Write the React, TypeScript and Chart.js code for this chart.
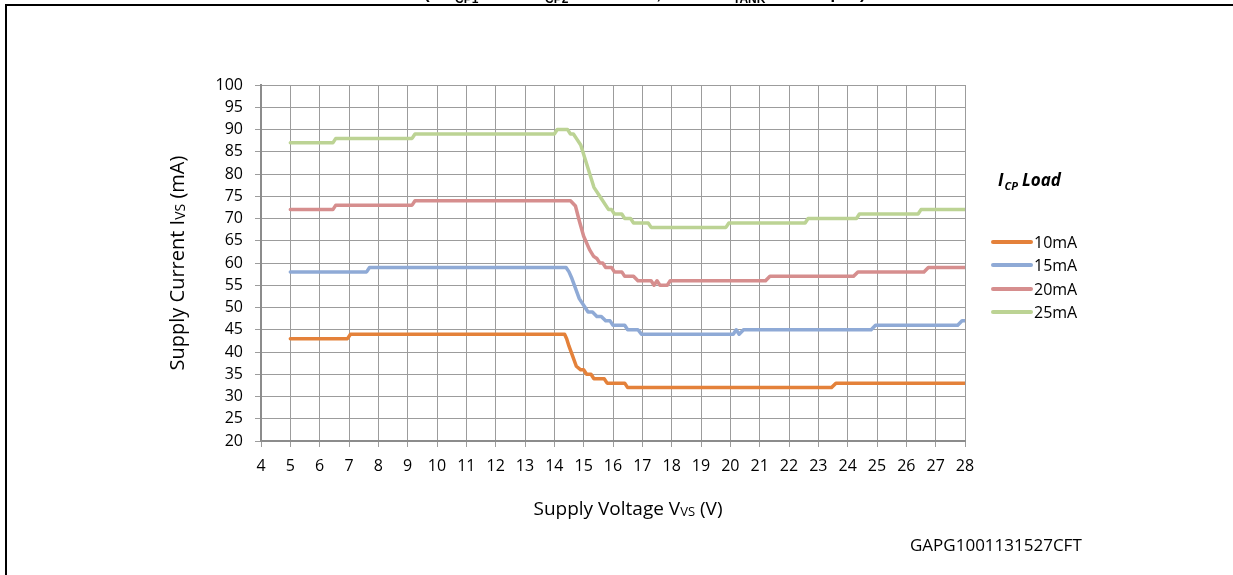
import React, { useEffect, useRef } from "react";
import { Chart, registerables } from "chart.js";

Chart.register(...registerables);

// ---- Data ----
const seriesLabels = ["10mA", "15mA", "20mA", "25mA"];
const seriesColors = ["#E4813A", "#8FAAD6", "#D68E8E", "#BCD394"];

const xTickMin = 4;
const xTickMax = 28;
const yTickMin = 20;
const yTickMax = 100;

const v10 = [5, 6.95, 7.05, 14.35, 14.42, 14.5, 14.6, 14.75, 14.9, 15.0, 15.1, 15.25, 15.35, 15.45, 15.7, 15.8, 16.4, 16.5, 23.45, 23.6, 28];
const i10 = [43, 43, 44, 44, 43, 41.3, 39.5, 36.8, 36, 36, 35, 35, 34, 34, 34, 33, 33, 32, 32, 33, 33];

const v15 = [5, 7.6, 7.7, 14.4, 14.5, 14.6, 14.85, 15.05, 15.15, 15.3, 15.45, 15.6, 15.75, 15.9, 16.0, 16.4, 16.5, 16.85, 16.97, 20.1, 20.2, 20.3, 20.45, 24.8, 24.95, 27.75, 27.9, 28];
const i15 = [58, 58, 59, 59, 58, 56.5, 52, 50, 49, 49, 48, 48, 47, 47, 46, 46, 45, 45, 44, 44, 45, 44, 45, 45, 46, 46, 47, 47];

const v20 = [5, 6.45, 6.55, 9.15, 9.25, 14.55, 14.72, 14.85, 15.0, 15.2, 15.34, 15.45, 15.55, 15.65, 15.75, 15.95, 16.05, 16.3, 16.4, 16.7, 16.85, 17.3, 17.4, 17.5, 17.6, 17.85, 17.95, 21.2, 21.35, 24.2, 24.35, 26.6, 26.75, 28];
const i20 = [72, 72, 73, 73, 74, 74, 72.8, 69.5, 66, 63, 61.5, 61, 60, 60, 59, 59, 58, 58, 57, 57, 56, 56, 55, 56, 55, 55, 56, 56, 57, 57, 58, 58, 59, 59];

const v25 = [5, 6.45, 6.55, 9.15, 9.25, 14.0, 14.1, 14.45, 14.55, 14.65, 14.75, 14.9, 15.35, 15.6, 15.85, 15.95, 16.05, 16.3, 16.4, 16.6, 16.7, 17.2, 17.3, 19.85, 19.95, 22.55, 22.65, 24.3, 24.4, 26.4, 26.5, 28];
const i25 = [87, 87, 88, 88, 89, 89, 90, 90, 89, 89, 88, 86.5, 77, 74.5, 72, 72, 71, 71, 70, 70, 69, 69, 68, 68, 69, 69, 70, 70, 71, 71, 72, 72];

const seriesV = [v10, v15, v20, v25];
const seriesI = [i10, i15, i20, i25];

const FONT = "'Open Sans', 'DejaVu Sans', sans-serif";

const decorPlugin = {
  id: "decor",
  afterDraw(chart: any) {
    const ctx: CanvasRenderingContext2D = chart.ctx;
    const area = chart.chartArea;
    ctx.save();

    // frame
    ctx.fillStyle = "#000";
    ctx.fillRect(6, 4, 1233 - 6, 2);
    ctx.fillRect(5, 4, 2, 575 - 4);

    // clipped title
    ctx.fillStyle = "#000";
    ctx.textBaseline = "alphabetic";
    ctx.textAlign = "left";
    const big = `bold 17px 'Liberation Sans', Arial, sans-serif`;
    const sub = `bold 12px 'Liberation Sans', Arial, sans-serif`;
    const pieces: [string, number, boolean][] = [
      ["(C", 424, false],
      ["CP1", 455, true],
      [" = C", 483, false],
      ["CP2", 545, true],
      [" = 220 nF, C", 585, false],
      ["TANK", 733, true],
      [" = 100 µF/ )", 778, false],
    ];
    for (const [t, x, s] of pieces) {
      ctx.font = s ? sub : big;
      ctx.fillText(t, x, s ? 3 : -1);
    }

    // y axis title (rotated)
    ctx.save();
    ctx.translate(177, (area.top + area.bottom) / 2);
    ctx.rotate(-Math.PI / 2);
    ctx.fillStyle = "#000";
    const yMain = `20px ${FONT}`;
    const ySub = `14px ${FONT}`;
    const yParts: [string, string, number][] = [
      ["Supply Current I", yMain, 0],
      ["VS", ySub, 1],
      [" (mA)", yMain, 0],
    ];
    let total = 0;
    for (const [t, f] of yParts) {
      ctx.font = f;
      total += ctx.measureText(t).width;
    }
    let cx = -total / 2;
    ctx.textBaseline = "alphabetic";
    for (const [t, f, dy] of yParts) {
      ctx.font = f;
      ctx.fillText(t, cx, 7 + dy);
      cx += ctx.measureText(t).width;
    }
    ctx.restore();

    // x axis title
    const xMain = `19px ${FONT}`;
    const xSub = `13px ${FONT}`;
    const xParts: [string, string, number][] = [
      ["Supply Voltage V", xMain, 0],
      ["VS", xSub, 1],
      [" (V)", xMain, 0],
    ];
    total = 0;
    for (const [t, f] of xParts) {
      ctx.font = f;
      total += ctx.measureText(t).width;
    }
    cx = 628 - total / 2;
    for (const [t, f, dy] of xParts) {
      ctx.font = f;
      ctx.fillText(t, cx, 515 + dy);
      cx += ctx.measureText(t).width;
    }

    // legend title
    ctx.font = `italic bold 17px ${FONT}`;
    ctx.fillText("I", 998, 186);
    let lx = 998 + ctx.measureText("I").width + 1;
    ctx.font = `italic bold 11px ${FONT}`;
    ctx.fillText("CP", lx, 190);
    lx += ctx.measureText("CP").width + 4;
    ctx.font = `italic bold 17px ${FONT}`;
    ctx.fillText("Load", lx, 186);

    // legend items
    const ys = [242, 265, 289, 312];
    chart.data.datasets.forEach((ds: any, k: number) => {
      ctx.strokeStyle = ds.borderColor;
      ctx.lineWidth = 4;
      ctx.lineCap = "round";
      ctx.beginPath();
      ctx.moveTo(993, ys[k]);
      ctx.lineTo(1031, ys[k]);
      ctx.stroke();
      ctx.fillStyle = "#000";
      ctx.font = `16px ${FONT}`;
      ctx.textBaseline = "middle";
      ctx.fillText(ds.label, 1034, ys[k] + 1);
    });

    // code label
    ctx.textBaseline = "middle";
    ctx.font = `17px ${FONT}`;
    ctx.fillStyle = "#000";
    ctx.fillText("GAPG1001131527CFT", 910, 546);

    ctx.restore();
  },
};

export default function App() {
  const ref = useRef<HTMLCanvasElement | null>(null);

  useEffect(() => {
    document.body.style.margin = "0";
    const canvas = ref.current!;
    const chart = new Chart(canvas, {
      type: "line",
      data: {
        datasets: seriesLabels.map((label, k) => ({
          label,
          data: seriesV[k].map((v, j) => ({ x: v, y: seriesI[k][j] })),
          borderColor: seriesColors[k],
          backgroundColor: seriesColors[k],
          borderWidth: 3.5,
          borderJoinStyle: "round" as const,
          borderCapStyle: "round" as const,
          pointRadius: 0,
          tension: 0,
          fill: false,
        })),
      },
      options: {
        animation: false,
        responsive: false,
        devicePixelRatio: 1,
        layout: { padding: { left: 0, top: 85, right: 268, bottom: 0 } },
        plugins: {
          legend: { display: false },
          tooltip: { enabled: false },
          title: { display: false },
        },
        scales: {
          x: {
            type: "linear",
            min: xTickMin,
            max: xTickMax,
            afterFit: (s: any) => {
              s.height = 134;
            },
            ticks: {
              stepSize: 1,
              color: "#000",
              font: { family: FONT, size: 16 },
              padding: 10,
              maxRotation: 0,
              autoSkip: false,
            },
            grid: { color: "#9c9c9c", lineWidth: 1, tickLength: 6 },
            border: { color: "#8c8c8c", width: 2 },
          },
          y: {
            type: "linear",
            min: yTickMin,
            max: yTickMax,
            afterFit: (s: any) => {
              s.width = 261;
            },
            ticks: {
              stepSize: 5,
              color: "#000",
              font: { family: FONT, size: 16 },
              padding: 12,
              autoSkip: false,
            },
            grid: { color: "#9c9c9c", lineWidth: 1, tickLength: 6 },
            border: { color: "#8c8c8c", width: 2 },
          },
        },
      },
      plugins: [decorPlugin],
    });
    return () => chart.destroy();
  }, []);

  return (
    <div style={{ position: "absolute", left: 0, top: 0, width: 1233, height: 575, background: "#fff" }}>
      <canvas ref={ref} width={1233} height={575} style={{ display: "block", width: 1233, height: 575 }} />
    </div>
  );
}
